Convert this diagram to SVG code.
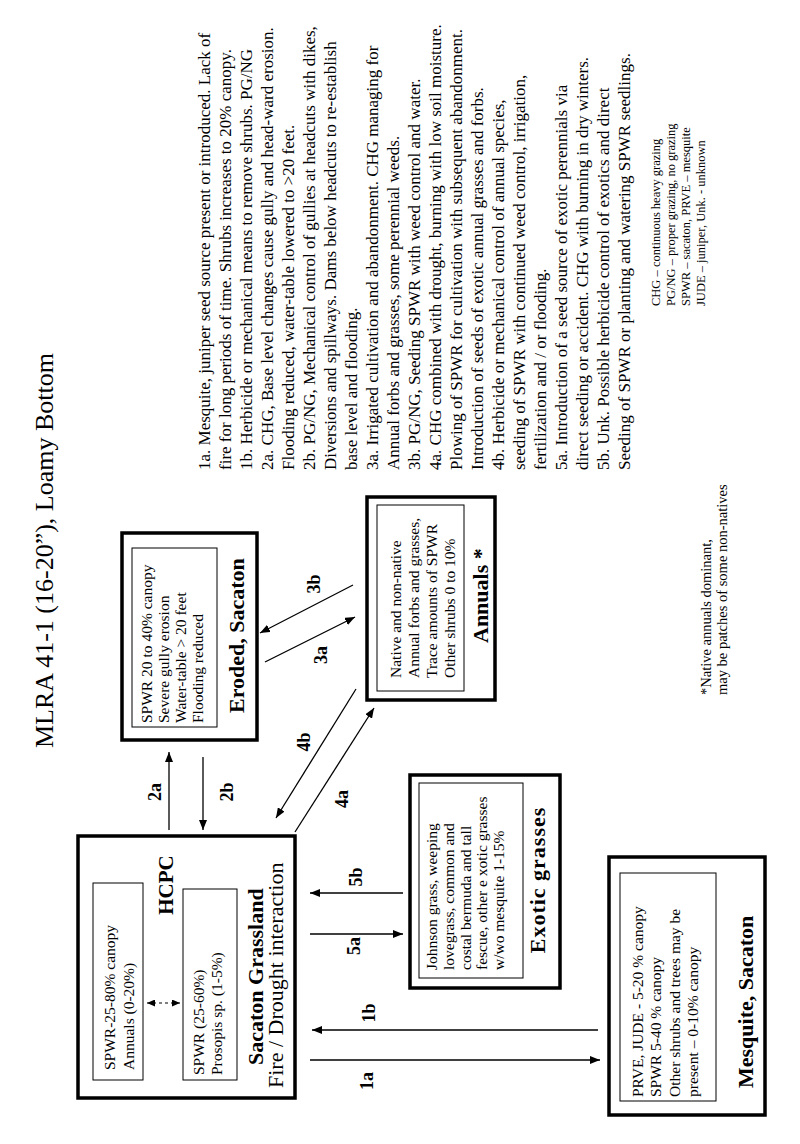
<svg xmlns="http://www.w3.org/2000/svg" width="800" height="1144" viewBox="0 0 800 1144">
<style>
text { font-family: "Liberation Serif", "Times New Roman", serif; fill: #000; }
.box { fill: #fff; stroke: #000; stroke-width: 3.5; }
.inner { fill: none; stroke: #000; stroke-width: 1; }
.ttl { font-weight: bold; font-size: 22px; }
.hc { font-weight: bold; font-size: 21px; }
.body { font-size: 15.5px; }
.sub { font-size: 22px; }
.lbl { font-weight: bold; font-size: 18px; text-anchor: middle; }
.note { font-size: 17px; }
.leg { font-size: 12.5px; }
.ast { font-size: 14.5px; }
.title { font-size: 26px; }
.conn line { stroke: #000; stroke-width: 1.3; marker-end: url(#ah); }
.dash { stroke: #000; stroke-width: 1.2; stroke-dasharray: 3 3; marker-end: url(#ahs); marker-start: url(#ahs); }
</style>
<defs>
<marker id="ah" markerUnits="userSpaceOnUse" markerWidth="10" markerHeight="8" refX="10" refY="4" orient="auto">
<path d="M0,0 L10,4 L0,8 z" fill="#000"/>
</marker>
<marker id="ahs" markerUnits="userSpaceOnUse" markerWidth="8" markerHeight="7" refX="8" refY="3.5" orient="auto-start-reverse">
<path d="M0,0 L8,3.5 L0,7 z" fill="#000"/>
</marker>
</defs>
<rect x="0" y="0" width="800" height="1144" fill="#fff"/>
<g transform="translate(0,1144) rotate(-90)">
<text class="title" x="396" y="53">MLRA 41-1 (16-20”), Loamy Bottom</text>

<g id="hcpc">
<rect class="box" x="46" y="78" width="262" height="217"/>
<rect class="inner" x="64" y="93" width="197" height="50"/>
<rect class="inner" x="64" y="183" width="191" height="54"/>
<text class="body" x="74" y="115">SPWR-25-80% canopy</text>
<text class="body" x="74" y="134">Annuals (0-20%)</text>
<text class="body" x="69" y="204">SPWR (25-60%)</text>
<text class="body" x="69" y="222">Prosopis sp. (1-5%)</text>
<line class="dash" x1="141" y1="147" x2="141" y2="180"/>
<text class="hc" x="259" y="173" text-anchor="middle">HCPC</text>
<text class="ttl" x="79" y="263">Sacaton Grassland</text>
<text class="sub" x="56" y="283">Fire / Drought interaction</text>
</g>

<g id="eroded">
<rect class="box" x="404" y="122" width="207" height="135"/>
<rect class="inner" x="417" y="132" width="179" height="85"/>
<text class="body" x="421" y="152">SPWR 20 to 40% canopy</text>
<text class="body" x="421" y="169">Severe gully erosion</text>
<text class="body" x="421" y="186">Water-table &gt; 20 feet</text>
<text class="body" x="421" y="203">Flooding reduced</text>
<text class="ttl" x="431" y="244">Eroded, Sacaton</text>
</g>

<g id="annuals">
<rect class="box" x="444" y="367" width="203" height="128"/>
<rect class="inner" x="453" y="377" width="186" height="87"/>
<text class="body" x="466" y="401">Native and non-native</text>
<text class="body" x="466" y="419">Annual forbs and grasses,</text>
<text class="body" x="466" y="437">Trace amounts of SPWR</text>
<text class="body" x="466" y="455">Other shrubs 0 to 10%</text>
<text class="ttl" x="501" y="488">Annuals *</text>
</g>

<g id="exotic">
<rect class="box" x="156" y="410" width="213" height="150"/>
<rect class="inner" x="166" y="419" width="195" height="104"/>
<text class="body" x="174" y="437">Johnson grass, weeping</text>
<text class="body" x="174" y="454">lovegrass, common and</text>
<text class="body" x="174" y="471">costal bermuda and tall</text>
<text class="body" x="174" y="487">fescue, other e xotic grasses</text>
<text class="body" x="174" y="504">w/wo mesquite 1-15%</text>
<text class="ttl" x="264" y="545" text-anchor="middle" letter-spacing="1">Exotic grasses</text>
</g>

<g id="mesquite">
<rect class="box" x="29" y="609" width="258" height="156"/>
<rect class="inner" x="43" y="620" width="228" height="96"/>
<text class="body" x="47" y="643">PRVE, JUDE - 5-20 % canopy</text>
<text class="body" x="47" y="661">SPWR 5-40 % canopy</text>
<text class="body" x="47" y="680">Other shrubs and trees may be</text>
<text class="body" x="47" y="698">present – 0-10% canopy</text>
<text class="ttl" x="56" y="753">Mesquite, Sacaton</text>
</g>

<g id="connectors" class="conn">
<line x1="314" y1="169" x2="392" y2="169"/>
<line x1="387" y1="203" x2="314" y2="203"/>
<line x1="559" y1="353" x2="511" y2="260"/>
<line x1="482" y1="265" x2="527" y2="355"/>
<line x1="455" y1="356" x2="326" y2="276"/>
<line x1="312" y1="295" x2="436" y2="374"/>
<line x1="251" y1="403" x2="251" y2="310"/>
<line x1="210" y1="310" x2="210" y2="403"/>
<line x1="114" y1="598" x2="114" y2="312"/>
<line x1="84" y1="310" x2="84" y2="600"/>
</g>
<g id="connector-labels">
<text class="lbl" x="352" y="161">2a</text>
<text class="lbl" x="352" y="233">2b</text>
<text class="lbl" x="560" y="320">3b</text>
<text class="lbl" x="489" y="327">3a</text>
<text class="lbl" x="402" y="310">4b</text>
<text class="lbl" x="345" y="348">4a</text>
<text class="lbl" x="267" y="362">5b</text>
<text class="lbl" x="198" y="360">5a</text>
<text class="lbl" x="131" y="375">1b</text>
<text class="lbl" x="63" y="373">1a</text>
</g>

<g id="notes">
<text class="note" x="674" y="210">1a. Mesquite, juniper seed source present or introduced. Lack of</text>
<text class="note" x="674" y="231">fire for long periods of time. Shrubs increases to 20% canopy.</text>
<text class="note" x="674" y="252">1b. Herbicide or mechanical means to remove shrubs. PG/NG</text>
<text class="note" x="674" y="273">2a. CHG, Base level changes cause gully and head-ward erosion.</text>
<text class="note" x="674" y="294">Flooding reduced, water-table lowered to &gt;20 feet.</text>
<text class="note" x="674" y="315">2b. PG/NG, Mechanical control of gullies at headcuts with dikes,</text>
<text class="note" x="674" y="336">Diversions and spillways. Dams below headcuts to re-establish</text>
<text class="note" x="674" y="357">base level and flooding.</text>
<text class="note" x="674" y="378">3a. Irrigated cultivation and abandonment. CHG managing for</text>
<text class="note" x="674" y="399">Annual forbs and grasses, some perennial weeds.</text>
<text class="note" x="674" y="420">3b. PG/NG, Seeding SPWR with weed control and water.</text>
<text class="note" x="674" y="441">4a. CHG combined with drought, burning with low soil moisture.</text>
<text class="note" x="674" y="462">Plowing of SPWR for cultivation with subsequent abandonment.</text>
<text class="note" x="674" y="483">Introduction of seeds of exotic annual grasses and forbs.</text>
<text class="note" x="674" y="504">4b. Herbicide or mechanical control of annual species,</text>
<text class="note" x="674" y="525">seeding of SPWR with continued weed control, irrigation,</text>
<text class="note" x="674" y="546">fertilization and / or flooding.</text>
<text class="note" x="674" y="567">5a. Introduction of a seed source of exotic perennials via</text>
<text class="note" x="674" y="588">direct seeding or accident. CHG with burning in dry winters.</text>
<text class="note" x="674" y="609">5b. Unk. Possible herbicide control of exotics and direct</text>
<text class="note" x="674" y="630">Seeding of SPWR or planting and watering SPWR seedlings.</text>
</g>

<g id="legend">
<text class="leg" x="838" y="660">CHG – continuous heavy grazing</text>
<text class="leg" x="838" y="675">PG/NG – proper grazing, no grazing</text>
<text class="leg" x="838" y="690">SPWR – sacaton, PRVE – mesquite</text>
<text class="leg" x="838" y="705">JUDE – juniper, Unk. - unknown</text>
</g>

<g id="footnote">
<text class="ast" x="449" y="711">*Native annuals dominant,</text>
<text class="ast" x="449" y="727">may be patches of some non-natives</text>
</g>
</g>
</svg>
